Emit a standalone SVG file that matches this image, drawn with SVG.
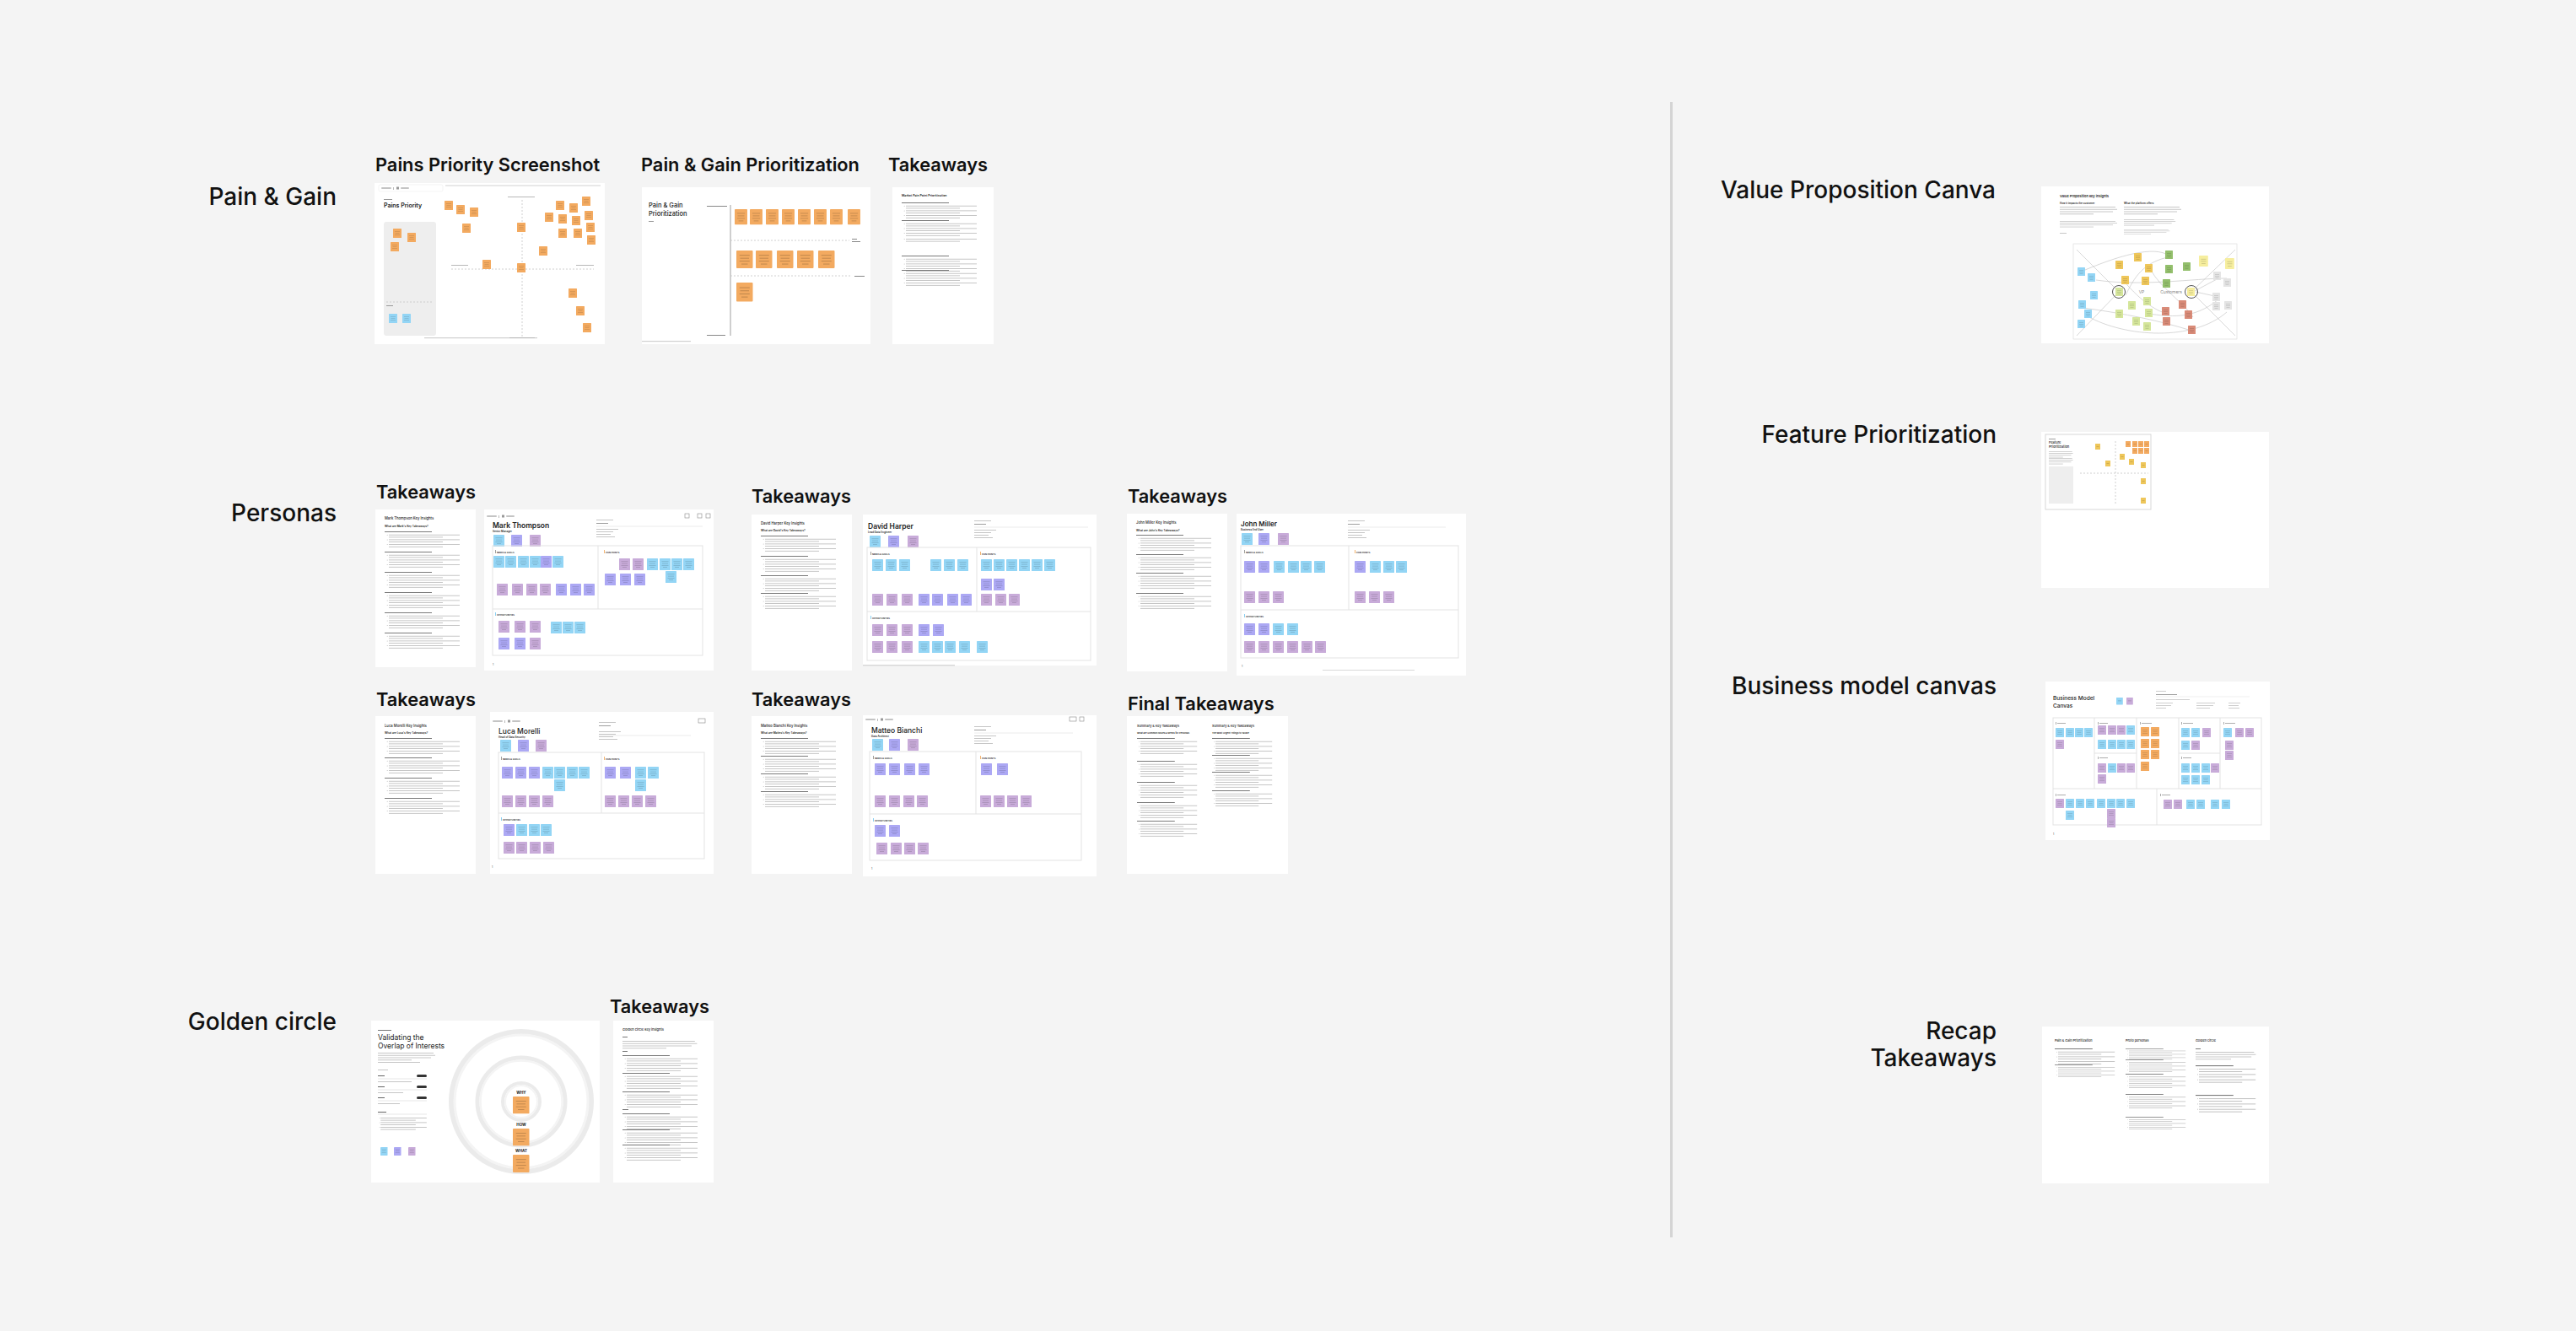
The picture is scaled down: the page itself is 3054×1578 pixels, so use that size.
<svg xmlns="http://www.w3.org/2000/svg" xmlns:xlink="http://www.w3.org/1999/xlink" width="3054" height="1578" viewBox="0 0 3054 1578">
<defs>
<style>
.lbl{font-family:Inter,"Liberation Sans",sans-serif;font-size:28px;font-weight:500;fill:#111;text-anchor:end}
.sub{font-family:Inter,"Liberation Sans",sans-serif;font-size:21.8px;font-weight:600;fill:#111}
.t{font-family:Inter,"Liberation Sans",sans-serif;fill:#222}
.fr{fill:#fff}
.b{fill:#93d5f5}.v{fill:#aca8f4}.p{fill:#c8abd9}.o{fill:#f3aa60}.y{fill:#eec65a}.g{fill:#93bf6c}.lg{fill:#d5e69b}.ly{fill:#f6ee9e}.r{fill:#d98b78}.w{fill:#e4e4e4}
.bx{fill:none;stroke:#e3e3e3;stroke-width:1}
.dl{fill:none;stroke:#c4c4c4;stroke-width:.8;stroke-dasharray:2 2}
.ln{fill:none;stroke:#bdbdbd;stroke-width:.6}
.tl{fill:#b8b8b8}
</style>
<g id="n"><rect width="13" height="14" rx=".6"/><g fill="#000" opacity=".22"><rect x="2.5" y="3.5" width="8" height=".6"/><rect x="3" y="5.8" width="7" height=".6"/><rect x="2.5" y="8.1" width="8" height=".6"/><rect x="4" y="10.4" width="5" height=".6"/></g></g>
<g id="m"><rect width="10" height="11" rx=".5"/><g fill="#000" opacity=".22"><rect x="2" y="3" width="6" height=".5"/><rect x="2.5" y="5" width="5" height=".5"/><rect x="2" y="7" width="6" height=".5"/></g></g>
<g id="q"><rect width="9" height="10" rx=".5"/><g fill="#000" opacity=".22"><rect x="2" y="3" width="5" height=".5"/><rect x="2" y="5" width="5" height=".5"/><rect x="2.5" y="7" width="4" height=".5"/></g></g>
<g id="s"><rect width="6" height="7" rx=".3"/><rect x="1.5" y="3" width="3" height=".5" fill="#000" opacity=".25"/></g>
<g id="bl" class="tl"><circle cx="3.2" cy=".4" r=".5"/><rect x="5" width="84" height=".8"/><rect x="5" y="2.7" width="64" height=".8"/></g>
<g id="sec"><rect width="56" height="1" fill="#7a7a7a"/><use href="#bl" y="3.8"/><use href="#bl" y="9.5"/><use href="#bl" y="15.2"/></g>
<g id="p4" class="tl"><rect width="66" height=".8"/><rect y="2.8" width="68" height=".8"/><rect y="5.6" width="63" height=".8"/><rect y="8.4" width="40" height=".8"/></g>
<g id="info" class="tl"><rect width="20" height=".8"/><rect y="4" width="14" height=".8" fill="#888"/><rect y="11" width="26" height=".8"/><rect y="14" width="20" height=".8"/><rect y="17" width="17" height=".8"/><rect y="20" width="22" height=".8"/></g>
<g id="bar"><rect width="12" height="2" rx="1" fill="#c4c4c4"/><rect x="14" width="1" height="3" fill="#bbb"/><rect x="18" y="-.5" width="3" height="3" fill="#999"/><rect x="23" width="10" height="2" rx="1" fill="#c4c4c4"/></g>
</defs>
<rect width="3054" height="1578" fill="#f4f4f4"/>
<rect id="divider" x="1980" y="121" width="3" height="1346" fill="#d4d4d4"/>

<!-- ============ LEFT SECTION ============ -->
<g id="label-pain-gain"><text class="lbl" x="399" y="243">Pain &amp; Gain</text></g>

<g id="pains-priority-screenshot">
<text class="sub" x="445" y="203">Pains Priority Screenshot</text>
<rect class="fr" x="444" y="217" width="273" height="191"/>
<rect x="449" y="219" width="76" height="8" rx="2" fill="#fff" stroke="#ececec" stroke-width=".6"/>
<use href="#bar" x="452" y="222"/>
<rect x="528" y="219" width="184" height="2" fill="#e8e8e8"/>
<rect x="455" y="236" width="10" height="1" fill="#999"/>
<text class="t" x="455" y="246" font-size="7" font-weight="600">Pains Priority</text>
<rect x="455" y="263" width="62" height="135" rx="3" fill="#eeeeee"/>
<line class="dl" x1="458" y1="358" x2="514" y2="358"/>
<rect x="458" y="362" width="8" height="1" fill="#999"/>
<line class="dl" x1="619" y1="237" x2="619" y2="400"/>
<line class="dl" x1="535" y1="319" x2="704" y2="319"/>
<rect x="602" y="233" width="32" height="1" class="tl"/>
<rect x="535" y="314" width="20" height="1" class="tl"/>
<rect x="683" y="314" width="21" height="1" class="tl"/>
<rect x="503" y="400" width="134" height="1.2" fill="#d0d0d0"/>
<rect x="604" y="400" width="30" height="1" class="tl"/>
<g class="o">
<use href="#m" x="527" y="238"/><use href="#m" x="541" y="243"/><use href="#m" x="557" y="246"/><use href="#m" x="548" y="265"/><use href="#m" x="613" y="264"/>
<use href="#m" x="659" y="238"/><use href="#m" x="675" y="241"/><use href="#m" x="690" y="233"/><use href="#m" x="646" y="252"/><use href="#m" x="662" y="254"/>
<use href="#m" x="678" y="256"/><use href="#m" x="693" y="250"/><use href="#m" x="695" y="264"/><use href="#m" x="662" y="271"/><use href="#m" x="680" y="271"/>
<use href="#m" x="696" y="279"/><use href="#m" x="639" y="292"/><use href="#m" x="572" y="308"/><use href="#m" x="613" y="312"/><use href="#m" x="674" y="342"/>
<use href="#m" x="683" y="363"/><use href="#m" x="691" y="383"/><use href="#m" x="466" y="271"/><use href="#m" x="483" y="276"/><use href="#m" x="463" y="287"/>
</g>
<g class="b"><use href="#m" x="461" y="372"/><use href="#m" x="477" y="372"/></g>
</g>

<g id="pain-gain-prioritization">
<text class="sub" x="760" y="203">Pain &amp; Gain Prioritization</text>
<rect class="fr" x="761" y="222" width="271" height="186"/>
<text class="t" x="769" y="246" font-size="7.5" font-weight="500">Pain &amp; Gain</text>
<text class="t" x="769" y="256" font-size="7.5" font-weight="500">Prioritization</text>
<rect x="769" y="262" width="6" height="1" fill="#999"/>
<line x1="866" y1="243" x2="866" y2="398" stroke="#888" stroke-width=".8"/>
<rect x="838" y="244" width="24" height="1" fill="#888"/>
<rect x="838" y="397" width="22" height="1" fill="#888"/>
<line class="dl" x1="866" y1="285" x2="1007" y2="285"/>
<line class="dl" x1="866" y1="327" x2="1010" y2="327"/>
<rect x="1010" y="283" width="6" height="1" fill="#888"/><rect x="1010" y="286" width="10" height="1" fill="#888"/>
<rect x="1013" y="327" width="12" height="1" fill="#888"/>
<g class="o">
<use href="#n" transform="translate(871 248) scale(1.15 1.3)"/><use href="#n" transform="translate(889 248) scale(1.15 1.3)"/><use href="#n" transform="translate(908 248) scale(1.15 1.3)"/><use href="#n" transform="translate(927 248) scale(1.15 1.3)"/>
<use href="#n" transform="translate(946 248) scale(1.15 1.3)"/><use href="#n" transform="translate(965 248) scale(1.15 1.3)"/><use href="#n" transform="translate(984 248) scale(1.15 1.3)"/><use href="#n" transform="translate(1005 248) scale(1.15 1.3)"/>
<use href="#n" transform="translate(873 297) scale(1.5 1.5)"/><use href="#n" transform="translate(896 297) scale(1.5 1.5)"/><use href="#n" transform="translate(921 297) scale(1.5 1.5)"/><use href="#n" transform="translate(945 297) scale(1.5 1.5)"/><use href="#n" transform="translate(970 297) scale(1.5 1.5)"/>
<use href="#n" transform="translate(873 335) scale(1.5 1.6)"/>
</g>
<rect x="761" y="404" width="58" height="1.2" fill="#cfcfcf"/>
</g>

<g id="pain-gain-takeaways">
<text class="sub" x="1053" y="203">Takeaways</text>
<rect class="fr" x="1058" y="222" width="120" height="186"/>
<text class="t" x="1069" y="233" font-size="3.6" font-weight="600">Market Pain Point Prioritization</text>
<use href="#sec" x="1069" y="240"/><use href="#sec" x="1069" y="261"/><use href="#bl" x="1069" y="283"/>
<use href="#sec" x="1069" y="303"/><use href="#sec" x="1069" y="320"/>
</g>

<g id="label-personas"><text class="lbl" x="399" y="618">Personas</text></g>

<!-- Mark Thompson -->
<g id="mark-takeaways">
<text class="sub" x="446" y="591">Takeaways</text>
<rect class="fr" x="445" y="604" width="119" height="187"/>
<text class="t" x="456" y="616" font-size="4.2" font-weight="500">Mark Thompson Key Insights</text>
<text class="t" x="456" y="625" font-size="3.2" font-weight="600">What are Mark's Key Takeaways?</text>
<use href="#sec" x="456" y="630"/><use href="#sec" x="456" y="654"/><use href="#sec" x="456" y="678"/>
<use href="#sec" x="456" y="702"/><use href="#sec" x="456" y="726"/><use href="#sec" x="456" y="750"/>
</g>
<g id="mark-thompson">
<rect class="fr" x="574" y="604" width="272" height="191"/>
<use href="#bar" x="577" y="611"/>
<rect x="812" y="609" width="5" height="5" fill="none" stroke="#888" stroke-width=".6"/><rect x="827" y="609" width="5" height="5" fill="none" stroke="#888" stroke-width=".6"/><rect x="837" y="609" width="5" height="5" fill="none" stroke="#888" stroke-width=".6"/>
<text class="t" x="584" y="626" font-size="8.5" font-weight="600">Mark Thompson</text>
<text class="t" x="584" y="631" font-size="3" font-weight="600">Senior Manager</text>
<use href="#info" x="707" y="616"/><line x1="707" y1="624" x2="833" y2="624" stroke="#ddd" stroke-width=".6"/>
<use href="#n" x="585" y="634" class="b"/><use href="#n" x="606" y="634" class="v"/><use href="#n" x="628" y="634" class="p"/>
<rect class="bx" x="584" y="647" width="249" height="130"/><line class="bx" x1="709" y1="647" x2="709" y2="722"/><line class="bx" x1="584" y1="722" x2="833" y2="722"/>
<rect x="587" y="652" width=".8" height="4" fill="#888"/><text class="t" x="589" y="655.5" font-size="2.6" font-weight="600">NEEDS &amp; GOALS</text>
<rect x="716" y="652" width=".8" height="4" fill="#f0a050"/><text class="t" x="718" y="655.5" font-size="2.6" font-weight="600">PAIN POINTS</text>
<rect x="587" y="726" width=".8" height="4" fill="#6cc4f0"/><text class="t" x="589" y="729.5" font-size="2.6" font-weight="600">OPPORTUNITIES</text>
<g class="b"><use href="#n" x="585" y="659"/><use href="#n" x="599" y="659"/><use href="#n" x="614" y="659"/><use href="#n" x="628" y="659"/><use href="#n" x="655" y="659"/>
<use href="#n" x="767" y="662"/><use href="#n" x="782" y="662"/><use href="#n" x="796" y="662"/><use href="#n" x="810" y="662"/><use href="#n" x="789" y="677"/>
<use href="#n" x="653" y="737"/><use href="#n" x="667" y="737"/><use href="#n" x="681" y="737"/></g>
<g class="v"><use href="#n" x="641" y="659"/><use href="#n" x="659" y="692"/><use href="#n" x="676" y="692"/><use href="#n" x="692" y="692"/>
<use href="#n" x="717" y="680"/><use href="#n" x="735" y="680"/><use href="#n" x="752" y="680"/><use href="#n" x="591" y="756"/><use href="#n" x="610" y="756"/></g>
<g class="p"><use href="#n" x="589" y="692"/><use href="#n" x="607" y="692"/><use href="#n" x="624" y="692"/><use href="#n" x="640" y="692"/>
<use href="#n" x="734" y="662"/><use href="#n" x="750" y="662"/><use href="#n" x="591" y="736"/><use href="#n" x="610" y="736"/><use href="#n" x="628" y="736"/><use href="#n" x="628" y="756"/></g>
<text class="t" x="584" y="789" font-size="3" fill="#999">1</text>
</g>

<!-- David Harper -->
<g id="david-takeaways">
<text class="sub" x="891" y="596">Takeaways</text>
<rect class="fr" x="891" y="610" width="119" height="185"/>
<text class="t" x="902" y="622" font-size="4.2" font-weight="500">David Harper Key Insights</text>
<text class="t" x="902" y="630" font-size="3.2" font-weight="600">What are David's Key Takeaways?</text>
<use href="#sec" x="902" y="635"/><use href="#sec" x="902" y="659"/><use href="#sec" x="902" y="682"/><use href="#sec" x="902" y="703"/>
</g>
<g id="david-harper">
<rect class="fr" x="1023" y="610" width="277" height="179"/>
<rect x="1023" y="788" width="109" height="1.5" fill="#d8d8d8"/>
<text class="t" x="1029" y="627" font-size="8.5" font-weight="600">David Harper</text>
<text class="t" x="1029" y="632" font-size="3" font-weight="600">Lead Data Engineer</text>
<use href="#info" x="1155" y="617"/><line x1="1155" y1="625" x2="1290" y2="625" stroke="#ddd" stroke-width=".6"/>
<use href="#n" x="1031" y="635" class="b"/><use href="#n" x="1053" y="635" class="v"/><use href="#n" x="1076" y="635" class="p"/>
<rect class="bx" x="1028" y="649" width="265" height="134"/><line class="bx" x1="1158" y1="649" x2="1158" y2="725"/><line class="bx" x1="1028" y1="725" x2="1293" y2="725"/>
<rect x="1032" y="654" width=".8" height="4" fill="#888"/><text class="t" x="1034" y="657.5" font-size="2.6" font-weight="600">NEEDS &amp; GOALS</text>
<rect x="1162" y="654" width=".8" height="4" fill="#f0a050"/><text class="t" x="1164" y="657.5" font-size="2.6" font-weight="600">PAIN POINTS</text>
<rect x="1032" y="730" width=".8" height="4" fill="#6cc4f0"/><text class="t" x="1034" y="733.5" font-size="2.6" font-weight="600">OPPORTUNITIES</text>
<g class="b"><use href="#n" x="1034" y="663"/><use href="#n" x="1050" y="663"/><use href="#n" x="1066" y="663"/><use href="#n" x="1103" y="663"/><use href="#n" x="1119" y="663"/><use href="#n" x="1135" y="663"/>
<use href="#n" x="1163" y="663"/><use href="#n" x="1178" y="663"/><use href="#n" x="1193" y="663"/><use href="#n" x="1208" y="663"/><use href="#n" x="1223" y="663"/><use href="#n" x="1238" y="663"/>
<use href="#n" x="1089" y="760"/><use href="#n" x="1105" y="760"/><use href="#n" x="1120" y="760"/><use href="#n" x="1137" y="760"/><use href="#n" x="1158" y="760"/></g>
<g class="v"><use href="#n" x="1089" y="704"/><use href="#n" x="1105" y="704"/><use href="#n" x="1123" y="704"/><use href="#n" x="1139" y="704"/>
<use href="#n" x="1163" y="686"/><use href="#n" x="1178" y="686"/><use href="#n" x="1089" y="740"/><use href="#n" x="1106" y="740"/></g>
<g class="p"><use href="#n" x="1034" y="704"/><use href="#n" x="1051" y="704"/><use href="#n" x="1069" y="704"/>
<use href="#n" x="1163" y="704"/><use href="#n" x="1180" y="704"/><use href="#n" x="1196" y="704"/>
<use href="#n" x="1034" y="740"/><use href="#n" x="1051" y="740"/><use href="#n" x="1069" y="740"/><use href="#n" x="1034" y="760"/><use href="#n" x="1051" y="760"/><use href="#n" x="1069" y="760"/></g>
</g>

<!-- John Miller -->
<g id="john-takeaways">
<text class="sub" x="1337" y="596">Takeaways</text>
<rect class="fr" x="1336" y="609" width="119" height="187"/>
<text class="t" x="1347" y="621" font-size="4.2" font-weight="500">John Miller Key Insights</text>
<text class="t" x="1347" y="630" font-size="3.2" font-weight="600">What are John's Key Takeaways?</text>
<use href="#sec" x="1347" y="634"/><use href="#sec" x="1347" y="657"/><use href="#sec" x="1347" y="679"/><use href="#sec" x="1347" y="703"/>
</g>
<g id="john-miller">
<rect class="fr" x="1466" y="609" width="272" height="192"/>
<rect x="1568" y="794" width="109" height="1" fill="#d8d8d8"/>
<text class="t" x="1471" y="624" font-size="8" font-weight="600">John Miller</text>
<text class="t" x="1471" y="629" font-size="3" font-weight="600">Business End User</text>
<use href="#info" x="1598" y="617"/><line x1="1598" y1="625" x2="1714" y2="625" stroke="#ddd" stroke-width=".6"/>
<use href="#n" x="1472" y="632" class="b"/><use href="#n" x="1492" y="632" class="v"/><use href="#n" x="1515" y="632" class="p"/>
<rect class="bx" x="1471" y="647" width="258" height="133"/><line class="bx" x1="1599" y1="647" x2="1599" y2="723"/><line class="bx" x1="1471" y1="723" x2="1729" y2="723"/>
<rect x="1475" y="652" width=".8" height="4" fill="#888"/><text class="t" x="1477" y="655.5" font-size="2.6" font-weight="600">NEEDS &amp; GOALS</text>
<rect x="1606" y="652" width=".8" height="4" fill="#f0a050"/><text class="t" x="1608" y="655.5" font-size="2.6" font-weight="600">PAIN POINTS</text>
<rect x="1475" y="728" width=".8" height="4" fill="#6cc4f0"/><text class="t" x="1477" y="731.5" font-size="2.6" font-weight="600">OPPORTUNITIES</text>
<g class="b"><use href="#n" x="1510" y="665"/><use href="#n" x="1527" y="665"/><use href="#n" x="1542" y="665"/><use href="#n" x="1558" y="665"/>
<use href="#n" x="1624" y="665"/><use href="#n" x="1640" y="665"/><use href="#n" x="1655" y="665"/><use href="#n" x="1509" y="739"/><use href="#n" x="1526" y="739"/></g>
<g class="v"><use href="#n" x="1475" y="665"/><use href="#n" x="1492" y="665"/><use href="#n" x="1606" y="665"/><use href="#n" x="1475" y="739"/><use href="#n" x="1492" y="739"/></g>
<g class="p"><use href="#n" x="1475" y="701"/><use href="#n" x="1492" y="701"/><use href="#n" x="1509" y="701"/>
<use href="#n" x="1606" y="701"/><use href="#n" x="1623" y="701"/><use href="#n" x="1640" y="701"/>
<use href="#n" x="1475" y="760"/><use href="#n" x="1492" y="760"/><use href="#n" x="1509" y="760"/><use href="#n" x="1526" y="760"/><use href="#n" x="1543" y="760"/><use href="#n" x="1559" y="760"/></g>
<text class="t" x="1472" y="791" font-size="3" fill="#999">1</text>
</g>

<!-- Luca Morelli -->
<g id="luca-takeaways">
<text class="sub" x="446" y="837">Takeaways</text>
<rect class="fr" x="445" y="849" width="119" height="187"/>
<text class="t" x="456" y="862" font-size="4.2" font-weight="500">Luca Morelli Key Insights</text>
<text class="t" x="456" y="870" font-size="3.2" font-weight="600">What are Luca's Key Takeaways?</text>
<use href="#sec" x="456" y="875"/><use href="#sec" x="456" y="898"/><use href="#sec" x="456" y="922"/><use href="#sec" x="456" y="946"/>
</g>
<g id="luca-morelli">
<rect class="fr" x="581" y="844" width="265" height="192"/>
<use href="#bar" x="584" y="854"/>
<rect x="828" y="852" width="8" height="5" fill="none" stroke="#888" stroke-width=".6"/>
<text class="t" x="591" y="870" font-size="8.5" font-weight="500">Luca Morelli</text>
<text class="t" x="591" y="875" font-size="3" font-weight="600">Head of Data Security</text>
<use href="#info" x="710" y="856"/><line x1="710" y1="872" x2="819" y2="872" stroke="#ddd" stroke-width=".6"/>
<use href="#n" x="593" y="877" class="b"/><use href="#n" x="614" y="877" class="v"/><use href="#n" x="635" y="877" class="p"/>
<rect class="bx" x="591" y="892" width="244" height="126"/><line class="bx" x1="713" y1="892" x2="713" y2="964"/><line class="bx" x1="591" y1="964" x2="835" y2="964"/>
<rect x="594" y="897" width=".8" height="4" fill="#888"/><text class="t" x="596" y="900.5" font-size="2.6" font-weight="600">NEEDS &amp; GOALS</text>
<rect x="716" y="897" width=".8" height="4" fill="#f0a050"/><text class="t" x="718" y="900.5" font-size="2.6" font-weight="600">PAIN POINTS</text>
<rect x="594" y="969" width=".8" height="4" fill="#6cc4f0"/><text class="t" x="596" y="972.5" font-size="2.6" font-weight="600">OPPORTUNITIES</text>
<g class="b"><use href="#n" x="643" y="909"/><use href="#n" x="657" y="909"/><use href="#n" x="672" y="909"/><use href="#n" x="686" y="909"/><use href="#n" x="657" y="924"/>
<use href="#n" x="753" y="909"/><use href="#n" x="768" y="909"/><use href="#n" x="753" y="924"/><use href="#n" x="612" y="977"/><use href="#n" x="627" y="977"/><use href="#n" x="641" y="977"/></g>
<g class="v"><use href="#n" x="595" y="909"/><use href="#n" x="611" y="909"/><use href="#n" x="627" y="909"/><use href="#n" x="717" y="909"/><use href="#n" x="735" y="909"/><use href="#n" x="597" y="977"/></g>
<g class="p"><use href="#n" x="595" y="943"/><use href="#n" x="611" y="943"/><use href="#n" x="627" y="943"/><use href="#n" x="643" y="943"/>
<use href="#n" x="717" y="943"/><use href="#n" x="733" y="943"/><use href="#n" x="749" y="943"/><use href="#n" x="765" y="943"/>
<use href="#n" x="597" y="998"/><use href="#n" x="612" y="998"/><use href="#n" x="628" y="998"/><use href="#n" x="644" y="998"/></g>
<text class="t" x="583" y="1029" font-size="3" fill="#999">1</text>
</g>

<!-- Matteo Bianchi -->
<g id="matteo-takeaways">
<text class="sub" x="891" y="837">Takeaways</text>
<rect class="fr" x="891" y="849" width="119" height="187"/>
<text class="t" x="902" y="862" font-size="4.2" font-weight="500">Matteo Bianchi Key Insights</text>
<text class="t" x="902" y="870" font-size="3.2" font-weight="600">What are Matteo's Key Takeaways?</text>
<use href="#sec" x="902" y="875"/><use href="#sec" x="902" y="896"/><use href="#sec" x="902" y="917"/><use href="#sec" x="902" y="938"/>
</g>
<g id="matteo-bianchi">
<rect class="fr" x="1023" y="848" width="277" height="191"/>
<use href="#bar" x="1026" y="852"/>
<rect x="1268" y="850" width="8" height="5" fill="none" stroke="#888" stroke-width=".6"/><rect x="1280" y="850" width="5" height="5" fill="none" stroke="#888" stroke-width=".6"/>
<text class="t" x="1033" y="869" font-size="8.5" font-weight="500">Matteo Bianchi</text>
<text class="t" x="1033" y="874" font-size="3" font-weight="600">Data Architect</text>
<use href="#info" x="1155" y="861"/><line x1="1155" y1="869" x2="1272" y2="869" stroke="#ddd" stroke-width=".6"/>
<use href="#n" x="1034" y="876" class="b"/><use href="#n" x="1054" y="876" class="v"/><use href="#n" x="1076" y="876" class="p"/>
<rect class="bx" x="1031" y="891" width="251" height="129"/><line class="bx" x1="1157" y1="891" x2="1157" y2="965"/><line class="bx" x1="1031" y1="965" x2="1282" y2="965"/>
<rect x="1035" y="896" width=".8" height="4" fill="#888"/><text class="t" x="1037" y="899.5" font-size="2.6" font-weight="600">NEEDS &amp; GOALS</text>
<rect x="1162" y="896" width=".8" height="4" fill="#f0a050"/><text class="t" x="1164" y="899.5" font-size="2.6" font-weight="600">PAIN POINTS</text>
<rect x="1035" y="970" width=".8" height="4" fill="#6cc4f0"/><text class="t" x="1037" y="973.5" font-size="2.6" font-weight="600">OPPORTUNITIES</text>
<g class="v"><use href="#n" x="1037" y="905"/><use href="#n" x="1054" y="905"/><use href="#n" x="1072" y="905"/><use href="#n" x="1089" y="905"/>
<use href="#n" x="1163" y="905"/><use href="#n" x="1182" y="905"/><use href="#n" x="1037" y="978"/><use href="#n" x="1054" y="978"/></g>
<g class="p"><use href="#n" x="1037" y="943"/><use href="#n" x="1054" y="943"/><use href="#n" x="1071" y="943"/><use href="#n" x="1087" y="943"/>
<use href="#n" x="1162" y="943"/><use href="#n" x="1178" y="943"/><use href="#n" x="1194" y="943"/><use href="#n" x="1210" y="943"/>
<use href="#n" x="1039" y="999"/><use href="#n" x="1056" y="999"/><use href="#n" x="1072" y="999"/><use href="#n" x="1088" y="999"/></g>
<text class="t" x="1033" y="1031" font-size="3" fill="#999">1</text>
</g>

<!-- Final Takeaways -->
<g id="final-takeaways">
<text class="sub" x="1337" y="842">Final Takeaways</text>
<rect class="fr" x="1336" y="849" width="191" height="187"/>
<text class="t" x="1348" y="862" font-size="3.8" font-weight="500">Summary &amp; Key Takeaways</text>
<text class="t" x="1348" y="870" font-size="2.7" font-weight="600">What are Common Issues &amp; Needs for Personas</text>
<use href="#sec" transform="translate(1348 875) scale(.8 1)"/><use href="#sec" transform="translate(1348 902) scale(.8 1)"/><use href="#sec" transform="translate(1348 927) scale(.8 1)"/>
<use href="#sec" transform="translate(1348 951) scale(.8 1)"/><use href="#sec" transform="translate(1348 973) scale(.8 1)"/>
<text class="t" x="1437" y="862" font-size="3.8" font-weight="500">Summary &amp; Key Takeaways</text>
<text class="t" x="1437" y="870" font-size="2.7" font-weight="600">The Most Urgent Things to Tackle</text>
<use href="#sec" transform="translate(1437 875) scale(.8 1)"/><use href="#sec" transform="translate(1437 895) scale(.8 1)"/><use href="#sec" transform="translate(1437 915) scale(.8 1)"/><use href="#sec" transform="translate(1437 937) scale(.8 1)"/>
</g>

<!-- Golden circle -->
<g id="label-golden-circle"><text class="lbl" x="399" y="1221">Golden circle</text></g>
<g id="golden-circle">
<rect class="fr" x="440" y="1210" width="271" height="192"/>
<rect x="448" y="1221" width="16" height="1" fill="#777"/>
<text class="t" x="448" y="1233" font-size="8.5">Validating the</text>
<text class="t" x="448" y="1243" font-size="8.5">Overlap of Interests</text>
<use href="#p4" x="448" y="1248"/><rect x="448" y="1259" width="50" height=".8" class="tl"/>
<rect x="448" y="1268" width="12" height=".8" class="tl"/>
<rect x="448" y="1275" width="8" height="1" fill="#666"/><rect x="494" y="1274" width="12" height="3" rx="1.5" fill="#333"/><line x1="448" y1="1279" x2="506" y2="1279" stroke="#ccc" stroke-width=".5"/><rect x="448" y="1282" width="40" height=".8" class="tl"/>
<rect x="448" y="1288" width="8" height="1" fill="#666"/><rect x="494" y="1287" width="12" height="3" rx="1.5" fill="#333"/><line x1="448" y1="1292" x2="506" y2="1292" stroke="#ccc" stroke-width=".5"/><rect x="448" y="1295" width="30" height=".8" class="tl"/>
<rect x="448" y="1301" width="8" height="1" fill="#666"/><rect x="494" y="1300" width="12" height="3" rx="1.5" fill="#333"/><line x1="448" y1="1305" x2="506" y2="1305" stroke="#ccc" stroke-width=".5"/><rect x="448" y="1308" width="26" height=".8" class="tl"/>
<rect x="448" y="1318" width="10" height="1" fill="#666"/><line x1="448" y1="1321" x2="506" y2="1321" stroke="#ccc" stroke-width=".5"/>
<use href="#bl" transform="translate(448 1325) scale(.65 1)"/><use href="#bl" transform="translate(448 1330.5) scale(.65 1)"/><use href="#bl" transform="translate(448 1336) scale(.65 1)"/>
<use href="#m" transform="translate(451 1360) scale(.85 .9)" class="b"/><use href="#m" transform="translate(467 1360) scale(.85 .9)" class="v"/><use href="#m" transform="translate(484 1360) scale(.85 .9)" class="p"/>
<circle cx="618" cy="1306" r="83" fill="none" stroke="#ebebeb" stroke-width="6"/>
<circle cx="618" cy="1306" r="79" fill="none" stroke="#f4f4f4" stroke-width="3"/>
<circle cx="618" cy="1306" r="52" fill="none" stroke="#ebebeb" stroke-width="5"/>
<circle cx="618" cy="1306" r="48.5" fill="none" stroke="#f4f4f4" stroke-width="2.5"/>
<circle cx="618" cy="1306" r="22" fill="none" stroke="#ebebeb" stroke-width="4"/>
<circle cx="618" cy="1306" r="19" fill="none" stroke="#f4f4f4" stroke-width="2"/>
<text class="t" x="618" y="1297" font-size="4.5" font-weight="700" text-anchor="middle">WHY</text>
<text class="t" x="618" y="1335" font-size="4.5" font-weight="700" text-anchor="middle">HOW</text>
<text class="t" x="618" y="1366" font-size="4.5" font-weight="700" text-anchor="middle">WHAT</text>
<g class="o"><use href="#n" transform="translate(608 1300) scale(1.5 1.45)"/><use href="#n" transform="translate(608 1338) scale(1.5 1.45)"/><use href="#n" transform="translate(608 1369) scale(1.5 1.5)"/></g>
</g>
<g id="golden-circle-takeaways">
<text class="sub" x="723" y="1201">Takeaways</text>
<rect class="fr" x="727" y="1210" width="119" height="192"/>
<text class="t" x="738" y="1222" font-size="4" font-weight="500">Golden circle key insights</text>
<rect x="738" y="1229" width="6" height="1" fill="#777"/>
<use href="#p4" transform="translate(738 1234) scale(1.3 1)"/>
<rect x="738" y="1246" width="6" height="1" fill="#777"/>
<use href="#sec" x="738" y="1251"/><use href="#sec" x="738" y="1272"/><use href="#sec" x="738" y="1294"/>
<rect x="738" y="1315" width="7" height="1" fill="#777"/>
<use href="#sec" x="738" y="1320"/><use href="#sec" x="738" y="1339"/><use href="#sec" x="738" y="1357"/>
</g>

<!-- ============ RIGHT SECTION ============ -->
<g id="label-value-proposition"><text class="lbl" x="2366" y="235">Value Proposition Canva</text></g>
<g id="value-proposition">
<rect class="fr" x="2420" y="221" width="270" height="186"/>
<text class="t" x="2442" y="234" font-size="4" font-weight="600">Value Proposition key insights</text>
<text class="t" x="2442" y="242" font-size="3" font-weight="600">How it impacts the customer</text>
<text class="t" x="2518" y="242" font-size="3" font-weight="600">What the platform offers</text>
<use href="#p4" x="2442" y="245"/><use href="#p4" transform="translate(2442 262) scale(1 .8)"/><rect x="2442" y="276" width="8" height=".8" class="tl"/>
<use href="#p4" x="2518" y="245"/><use href="#p4" transform="translate(2518 260) scale(.9 .8)"/><use href="#p4" transform="translate(2518 272) scale(.8 .6)"/>
<rect x="2458" y="289" width="194" height="113" fill="#fff" stroke="#e2e2e2" stroke-width=".8"/>
<g class="ln">
<path d="M2462 296 L2512 346 L2462 398"/>
<path d="M2650 296 L2598 346 L2650 398"/>
<path d="M2472 320 C2520 300 2560 290 2575 306"/>
<path d="M2485 332 C2540 340 2600 330 2640 330"/>
<path d="M2470 365 C2520 372 2560 380 2598 392"/>
<path d="M2475 375 C2520 400 2600 405 2640 370"/>
<path d="M2517 332 C2540 360 2560 370 2570 372"/>
<path d="M2550 320 C2560 340 2590 360 2600 376"/>
<path d="M2520 350 C2530 330 2540 310 2575 304"/>
<path d="M2600 346 L2630 330"/><path d="M2603 346 L2630 352"/>
<path d="M2548 372 C2570 375 2600 380 2630 355"/>
</g>
<circle cx="2512" cy="346" r="7.5" fill="none" stroke="#555" stroke-width="1"/>
<circle cx="2598" cy="346" r="7.5" fill="none" stroke="#555" stroke-width="1"/>
<text x="2539" y="348" font-family="Inter,'Liberation Sans',sans-serif" font-size="5" fill="#888" text-anchor="middle">VP</text>
<text x="2574" y="348" font-family="Inter,'Liberation Sans',sans-serif" font-size="5" fill="#888" text-anchor="middle">Customers</text>
<g class="b"><use href="#q" x="2463" y="317"/><use href="#q" x="2475" y="324"/><use href="#q" x="2478" y="345"/><use href="#q" x="2464" y="356"/><use href="#q" x="2471" y="367"/><use href="#q" x="2463" y="379"/></g>
<g class="y"><use href="#q" x="2508" y="309"/><use href="#q" x="2530" y="300"/><use href="#q" x="2515" y="327"/><use href="#q" x="2543" y="313"/><use href="#q" x="2539" y="328"/></g>
<g class="g"><use href="#q" x="2567" y="297"/><use href="#q" x="2567" y="314"/><use href="#q" x="2588" y="311"/><use href="#q" x="2564" y="331"/></g>
<g class="ly"><use href="#q" transform="translate(2607 303) scale(1.2 1.3)"/><use href="#q" transform="translate(2638 306) scale(1.2 1.3)"/><use href="#q" x="2593" y="341"/></g>
<g class="lg"><use href="#q" x="2541" y="352"/><use href="#q" x="2523" y="357"/><use href="#q" x="2508" y="367"/><use href="#q" x="2543" y="366"/><use href="#q" x="2528" y="376"/><use href="#q" x="2541" y="382"/><use href="#q" x="2508" y="341"/></g>
<g class="r"><use href="#q" x="2583" y="356"/><use href="#q" x="2563" y="364"/><use href="#q" x="2590" y="368"/><use href="#q" x="2564" y="376"/><use href="#q" x="2594" y="386"/></g>
<g class="w"><use href="#q" x="2624" y="322"/><use href="#q" x="2636" y="330"/><use href="#q" x="2623" y="347"/><use href="#q" x="2623" y="358"/><use href="#q" x="2637" y="357"/></g>
</g>

<g id="label-feature-prioritization"><text class="lbl" x="2367" y="525">Feature Prioritization</text></g>
<g id="feature-prioritization">
<rect class="fr" x="2420" y="512" width="270" height="185"/>
<rect x="2425" y="515" width="125" height="89" fill="#fff" stroke="#d8d8d8" stroke-width="1"/>
<rect x="2429" y="520" width="8" height=".8" fill="#888"/>
<text class="t" x="2429" y="526" font-size="4" font-weight="500">Feature</text>
<text class="t" x="2429" y="531" font-size="4" font-weight="500">Prioritization</text>
<use href="#p4" transform="translate(2429 535) scale(.42 .8)"/><use href="#p4" transform="translate(2429 543) scale(.42 .8)"/>
<rect x="2429" y="553" width="29" height="44" fill="#eeeeee"/>
<line class="dl" x1="2508" y1="523" x2="2508" y2="598" stroke-width=".5"/>
<line class="dl" x1="2466" y1="561" x2="2547" y2="561" stroke-width=".5"/>
<g class="y"><use href="#s" x="2484" y="526"/><use href="#s" x="2496" y="546"/><use href="#s" x="2513" y="538"/><use href="#s" x="2524" y="544"/><use href="#s" x="2538" y="548"/><use href="#s" x="2538" y="567"/><use href="#s" x="2538" y="590"/></g>
<g class="o"><use href="#s" x="2520" y="523"/><use href="#s" x="2528" y="523"/><use href="#s" x="2535" y="523"/><use href="#s" x="2542" y="523"/><use href="#s" x="2528" y="531"/><use href="#s" x="2535" y="531"/><use href="#s" x="2542" y="531"/></g>
</g>

<g id="label-business-model"><text class="lbl" x="2367" y="823">Business model canvas</text></g>
<g id="business-model-canvas">
<rect class="fr" x="2425" y="808" width="266" height="188"/>
<text class="t" x="2434" y="830" font-size="6.5" font-weight="500">Business Model</text>
<text class="t" x="2434" y="839" font-size="6.5" font-weight="500">Canvas</text>
<use href="#s" transform="translate(2509 827) scale(1.3 1.2)" class="b"/><use href="#s" transform="translate(2521 827) scale(1.3 1.2)" class="p"/>
<rect x="2556" y="819" width="12" height=".7" class="tl"/><rect x="2556" y="823" width="25" height=".8" fill="#888"/><line x1="2556" y1="826" x2="2667" y2="826" stroke="#ddd" stroke-width=".5"/>
<rect x="2556" y="829" width="40" height=".7" class="tl"/>
<rect x="2556" y="833" width="20" height=".7" class="tl"/><rect x="2556" y="836" width="18" height=".7" class="tl"/><rect x="2556" y="839" width="12" height=".7" class="tl"/>
<rect x="2604" y="833" width="22" height=".7" class="tl"/><rect x="2604" y="836" width="20" height=".7" class="tl"/><rect x="2604" y="839" width="16" height=".7" class="tl"/>
<rect x="2642" y="833" width="14" height=".7" class="tl"/><rect x="2642" y="836" width="12" height=".7" class="tl"/><rect x="2642" y="839" width="13" height=".7" class="tl"/>
<g class="bx" stroke-width=".7">
<rect x="2434" y="851" width="247" height="127"/>
<line x1="2483" y1="851" x2="2483" y2="935"/><line x1="2533" y1="851" x2="2533" y2="935"/><line x1="2583" y1="851" x2="2583" y2="935"/><line x1="2632" y1="851" x2="2632" y2="935"/>
<line x1="2483" y1="893" x2="2533" y2="893"/><line x1="2583" y1="893" x2="2632" y2="893"/>
<line x1="2434" y1="935" x2="2681" y2="935"/><line x1="2557" y1="935" x2="2557" y2="978"/>
</g>
<g fill="#777"><rect x="2437" y="856" width=".6" height="3"/><rect x="2439" y="857" width="10" height=".6"/>
<rect x="2487" y="856" width=".6" height="3"/><rect x="2489" y="857" width="10" height=".6"/>
<rect x="2537" y="856" width=".6" height="3"/><rect x="2539" y="857" width="12" height=".6"/>
<rect x="2586" y="856" width=".6" height="3"/><rect x="2588" y="857" width="12" height=".6"/>
<rect x="2636" y="856" width=".6" height="3"/><rect x="2638" y="857" width="12" height=".6"/>
<rect x="2487" y="897" width=".6" height="3"/><rect x="2489" y="898" width="10" height=".6"/>
<rect x="2586" y="897" width=".6" height="3"/><rect x="2588" y="898" width="10" height=".6"/>
<rect x="2437" y="941" width=".6" height="3"/><rect x="2439" y="942" width="10" height=".6"/>
<rect x="2561" y="941" width=".6" height="3"/><rect x="2563" y="942" width="10" height=".6"/></g>
<g class="b"><use href="#m" x="2437" y="863"/><use href="#m" x="2449" y="863"/><use href="#m" x="2460" y="863"/><use href="#m" x="2471" y="863"/>
<use href="#m" x="2521" y="860"/><use href="#m" x="2487" y="877"/><use href="#m" x="2499" y="877"/><use href="#m" x="2510" y="877"/><use href="#m" x="2521" y="877"/>
<use href="#m" x="2499" y="905"/><use href="#m" x="2586" y="863"/><use href="#m" x="2598" y="863"/><use href="#m" x="2586" y="878"/>
<use href="#m" x="2586" y="905"/><use href="#m" x="2598" y="905"/><use href="#m" x="2610" y="905"/><use href="#m" x="2586" y="919"/><use href="#m" x="2598" y="919"/><use href="#m" x="2610" y="919"/>
<use href="#m" x="2636" y="863"/>
<use href="#m" x="2449" y="947"/><use href="#m" x="2461" y="947"/><use href="#m" x="2473" y="947"/><use href="#m" x="2486" y="947"/><use href="#m" x="2498" y="947"/><use href="#m" x="2509" y="947"/><use href="#m" x="2521" y="947"/><use href="#m" x="2449" y="961"/>
<use href="#m" x="2592" y="948"/><use href="#m" x="2604" y="948"/><use href="#m" x="2621" y="948"/><use href="#m" x="2634" y="948"/></g>
<g class="p"><use href="#m" x="2437" y="877"/><use href="#m" x="2487" y="860"/><use href="#m" x="2499" y="860"/><use href="#m" x="2510" y="860"/>
<use href="#m" x="2487" y="905"/><use href="#m" x="2510" y="905"/><use href="#m" x="2521" y="905"/><use href="#m" x="2487" y="918"/>
<use href="#m" x="2611" y="863"/><use href="#m" x="2598" y="878"/><use href="#m" x="2621" y="905"/>
<use href="#m" x="2650" y="863"/><use href="#m" x="2662" y="863"/><use href="#m" x="2638" y="878"/><use href="#m" x="2638" y="890"/>
<use href="#m" x="2437" y="947"/><use href="#m" x="2498" y="959"/><use href="#m" x="2498" y="970"/><use href="#m" x="2565" y="948"/><use href="#m" x="2577" y="948"/></g>
<g class="o"><use href="#m" x="2538" y="862"/><use href="#m" x="2550" y="862"/><use href="#m" x="2538" y="876"/><use href="#m" x="2550" y="876"/><use href="#m" x="2538" y="889"/><use href="#m" x="2550" y="889"/><use href="#m" x="2538" y="903"/></g>
<text class="t" x="2434" y="990" font-size="3" fill="#999">1</text>
</g>

<g id="label-recap"><text class="lbl" x="2367" y="1232">Recap</text><text class="lbl" x="2367" y="1264">Takeaways</text></g>
<g id="recap-takeaways">
<rect class="fr" x="2421" y="1217" width="269" height="186"/>
<text class="t" x="2436" y="1235" font-size="3.8" font-weight="500">Pain &amp; Gain Prioritization</text>
<text class="t" x="2520" y="1235" font-size="3.8" font-weight="500">Proto personas</text>
<text class="t" x="2603" y="1235" font-size="3.8" font-weight="500">Golden circle</text>
<use href="#sec" transform="translate(2436 1243) scale(.8 1)"/><use href="#sec" transform="translate(2436 1262) scale(.8 .8)"/>
<use href="#sec" transform="translate(2520 1243) scale(.8 .7)"/><use href="#sec" transform="translate(2520 1256) scale(.8 .8)"/>
<use href="#sec" transform="translate(2520 1273) scale(.8 .9)"/><use href="#sec" transform="translate(2520 1297) scale(.8 .9)"/><use href="#sec" transform="translate(2520 1324) scale(.8 .8)"/>
<rect x="2603" y="1243" width="6" height="1" fill="#777"/><use href="#p4" transform="translate(2603 1247) scale(1.05 1)"/>
<use href="#sec" transform="translate(2603 1263) scale(.8 1.1)"/><use href="#sec" transform="translate(2603 1298) scale(.8 1.1)"/>
</g>
</svg>
